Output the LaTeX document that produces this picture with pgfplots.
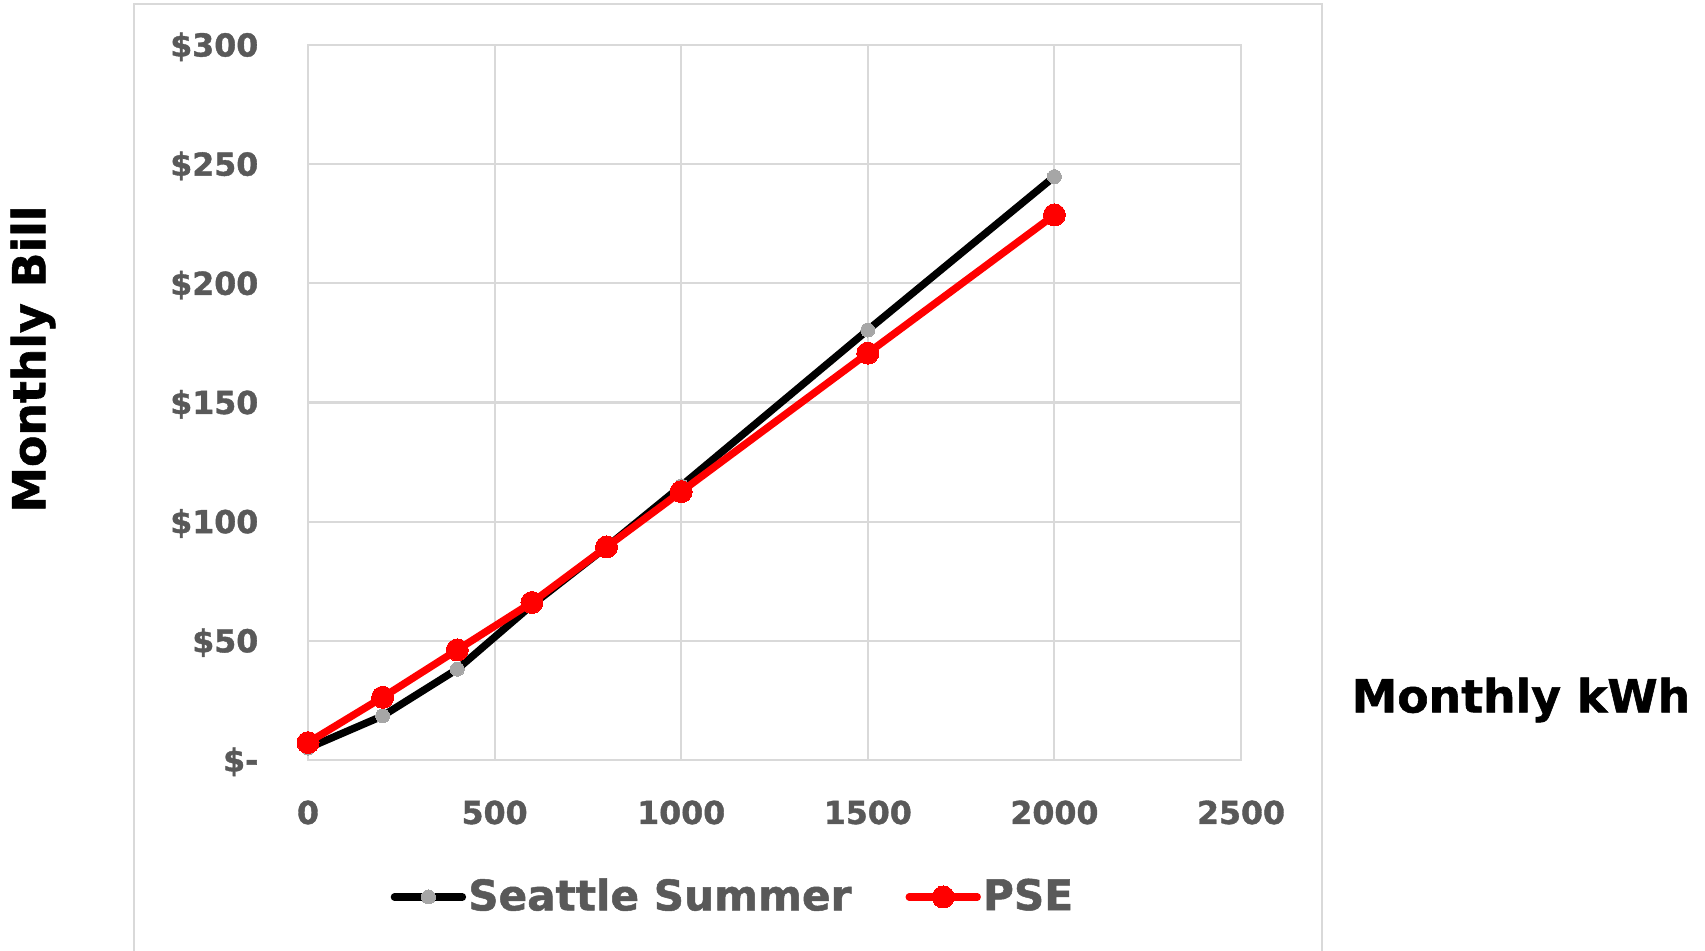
\documentclass[border=0pt]{standalone}
\usepackage{fontspec}
\setmainfont{DejaVu Sans}[BoldFeatures={FakeBold=1.2}]
\usepackage{pgfplots}
\pgfplotsset{compat=1.18}
\definecolor{gridgray}{HTML}{D9D9D9}
\definecolor{ticktext}{HTML}{595959}
\definecolor{psered}{HTML}{FF0000}
\definecolor{markgray}{HTML}{A6A6A6}
\begin{document}
\begin{tikzpicture}[x=1mm,y=1mm]
\useasboundingbox (0,0) rectangle (170.5,95.1);
\draw[gridgray, line width=0.6pt] (13.4,0) -- (13.4,94.7) -- (132.2,94.7) -- (132.2,0);
\begin{axis}[
  at={(30.8mm,19.1mm)}, anchor=south west,
  scale only axis, width=93.3mm, height=71.5mm,
  xmin=0, xmax=2500, ymin=0, ymax=300,
  xtick={0,500,1000,1500,2000,2500},
  xticklabels={0,500,1000,1500,2000,2500},
  ytick={0,50,100,150,200,250,300},
  yticklabels={\$-,\$50,\$100,\$150,\$200,\$250,\$300},
  grid=major,
  major grid style={gridgray, line width=0.6pt},
  axis line style={gridgray, line width=0.6pt},
  major tick length=0pt,
  tick label style={font=\fontsize{9}{10}\selectfont\bfseries, text=ticktext, inner sep=0pt},
  xticklabel style={anchor=base, yshift=-6.4mm},
  yticklabel style={anchor=base east, xshift=-4.9mm, yshift=-1.15mm},
  clip=false,
  legend columns=2,
  legend style={draw=none, fill=none, at={(0.4555,-0.1916)}, anchor=center,
    font=\fontsize{12}{14}\selectfont\bfseries, text=ticktext,
    nodes={inner sep=0.6pt},
    /tikz/every even column/.append style={column sep=5.2mm}},
  legend image code/.code={\draw[mark repeat=2,mark phase=2,#1] plot coordinates {(0mm,0mm)(3.4mm,0mm)(6.8mm,0mm)};},
]
\addplot[black, line width=2.1pt, line cap=round, line join=round, mark=*, mark size=0.7mm,
  mark options={fill=markgray, draw=markgray, line width=0pt}]
  coordinates {(0,5)(200,18.5)(400,38.1)(600,65)(800,89.4)(1000,115)(1500,180.4)(2000,244.8)};
\addlegendentry{Seattle Summer}
\addplot[psered, line width=2.1pt, line cap=round, line join=round, mark=*, mark size=1.1mm,
  mark options={fill=psered, draw=psered, line width=0pt}]
  coordinates {(0,7.3)(200,26.3)(400,46.2)(600,66.1)(800,89.4)(1000,112.6)(1500,170.7)(2000,228.7)};
\addlegendentry{PSE}
\end{axis}
\node[rotate=90, font=\fontsize{13}{15}\selectfont\bfseries, text=black] at (3.3,59.2) {Monthly Bill};
\node[font=\fontsize{13}{15}\selectfont\bfseries, text=black] at (152.1,25.1) {Monthly kWh};
\end{tikzpicture}
\end{document}
